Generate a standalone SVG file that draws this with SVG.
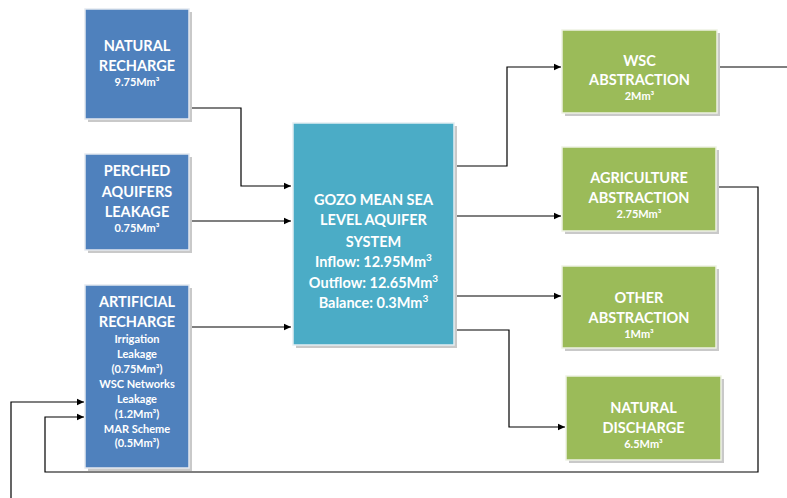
<svg xmlns="http://www.w3.org/2000/svg" width="787" height="498" viewBox="0 0 787 498">
<defs>
<marker id="ah" markerWidth="8" markerHeight="8" refX="7" refY="4" orient="auto" markerUnits="userSpaceOnUse">
<path d="M0,0.8 L7,4 L0,7.2 Z" fill="#000"/>
</marker>
</defs>
<style>
.sh{fill:#c9c9c9;}
.blue{fill:#4F81BD;stroke:#e4e9f0;stroke-width:1.5;}
.teal{fill:#4BACC6;stroke:#e4eef2;stroke-width:1.5;}
.green{fill:#9BBB59;stroke:#eef2e4;stroke-width:1.5;}
text{font-family:Lato,"Open Sans","Liberation Sans",sans-serif;font-weight:bold;fill:#fff;text-anchor:middle;}
.t{font-size:14.5px;}
.s{font-size:11px;}
.m{font-size:11px;}
.c{font-size:14.5px;}
.con{fill:none;stroke:#000;stroke-width:1.2;}
</style>
<rect width="787" height="498" fill="#fff"/>
<g id="connectors">
<polyline class="con" points="189,108 241,108 241,186 291,186" marker-end="url(#ah)"/>
<polyline class="con" points="189,221 291,221" marker-end="url(#ah)"/>
<polyline class="con" points="189,327 291,327" marker-end="url(#ah)"/>
<polyline class="con" points="454,166 507,166 507,67 561,67" marker-end="url(#ah)"/>
<polyline class="con" points="454,216 561,216" marker-end="url(#ah)"/>
<polyline class="con" points="454,296 561,296" marker-end="url(#ah)"/>
<polyline class="con" points="454,330 509,330 509,427 565,427" marker-end="url(#ah)"/>
<polyline class="con" points="717,67 787,67"/>
<polyline class="con" points="716,187 758,187 758,472 45,472 45,417 84,417" marker-end="url(#ah)"/>
<polyline class="con" points="11,498 11,402 84,402" marker-end="url(#ah)"/>
</g>
<g id="natural-recharge">
<rect class="sh" x="88" y="12" width="104" height="110"/>
<rect class="blue" x="85" y="9" width="104" height="110"/>
<text class="t" x="137" y="51">NATURAL</text>
<text class="t" x="137" y="71">RECHARGE</text>
<text class="s" x="137" y="86">9.75Mm³</text>
</g>
<g id="perched-aquifers">
<rect class="sh" x="88" y="157" width="104" height="96"/>
<rect class="blue" x="85" y="154" width="104" height="96"/>
<text class="t" x="137" y="176">PERCHED</text>
<text class="t" x="137" y="197">AQUIFERS</text>
<text class="t" x="137" y="217">LEAKAGE</text>
<text class="s" x="137" y="232">0.75Mm³</text>
</g>
<g id="artificial-recharge">
<rect class="sh" x="88" y="288" width="104" height="183"/>
<rect class="blue" x="85" y="285" width="104" height="183"/>
<text class="t" x="137" y="307">ARTIFICIAL</text>
<text class="t" x="137" y="327">RECHARGE</text>
<text class="m" x="137" y="343">Irrigation</text>
<text class="m" x="137" y="358">Leakage</text>
<text class="m" x="137" y="373">(0.75Mm³)</text>
<text class="m" x="137" y="388">WSC Networks</text>
<text class="m" x="137" y="403">Leakage</text>
<text class="m" x="137" y="418">(1.2Mm³)</text>
<text class="m" x="137" y="433">MAR Scheme</text>
<text class="m" x="137" y="447">(0.5Mm³)</text>
</g>
<g id="gozo-aquifer">
<rect class="sh" x="296" y="126" width="161" height="222"/>
<rect class="teal" x="293" y="123" width="161" height="222"/>
<text class="c" x="373.5" y="205">GOZO MEAN SEA</text>
<text class="c" x="373.5" y="225">LEVEL AQUIFER</text>
<text class="c" x="373.5" y="247">SYSTEM</text>
<text class="c" x="373.5" y="267">Inflow: 12.95Mm<tspan font-size="10" dy="-6">3</tspan></text>
<text class="c" x="373.5" y="288">Outflow: 12.65Mm<tspan font-size="10" dy="-6">3</tspan></text>
<text class="c" x="373.5" y="308">Balance: 0.3Mm<tspan font-size="10" dy="-6">3</tspan></text>
</g>
<g id="wsc-abstraction">
<rect class="sh" x="565" y="33" width="155" height="83"/>
<rect class="green" x="562" y="30" width="155" height="83"/>
<text class="t" x="639.5" y="66">WSC</text>
<text class="t" x="639.5" y="85">ABSTRACTION</text>
<text class="s" x="639.5" y="100">2Mm³</text>
</g>
<g id="agriculture-abstraction">
<rect class="sh" x="565" y="150" width="154" height="84"/>
<rect class="green" x="562" y="147" width="154" height="84"/>
<text class="t" x="639" y="183">AGRICULTURE</text>
<text class="t" x="639" y="203">ABSTRACTION</text>
<text class="s" x="639" y="218">2.75Mm³</text>
</g>
<g id="other-abstraction">
<rect class="sh" x="565" y="269" width="154" height="82"/>
<rect class="green" x="562" y="266" width="154" height="82"/>
<text class="t" x="639" y="303">OTHER</text>
<text class="t" x="639" y="323">ABSTRACTION</text>
<text class="s" x="639" y="338">1Mm³</text>
</g>
<g id="natural-discharge">
<rect class="sh" x="569" y="379" width="155" height="84"/>
<rect class="green" x="566" y="376" width="155" height="84"/>
<text class="t" x="643.5" y="413">NATURAL</text>
<text class="t" x="643.5" y="433">DISCHARGE</text>
<text class="s" x="643.5" y="448">6.5Mm³</text>
</g>
</svg>
